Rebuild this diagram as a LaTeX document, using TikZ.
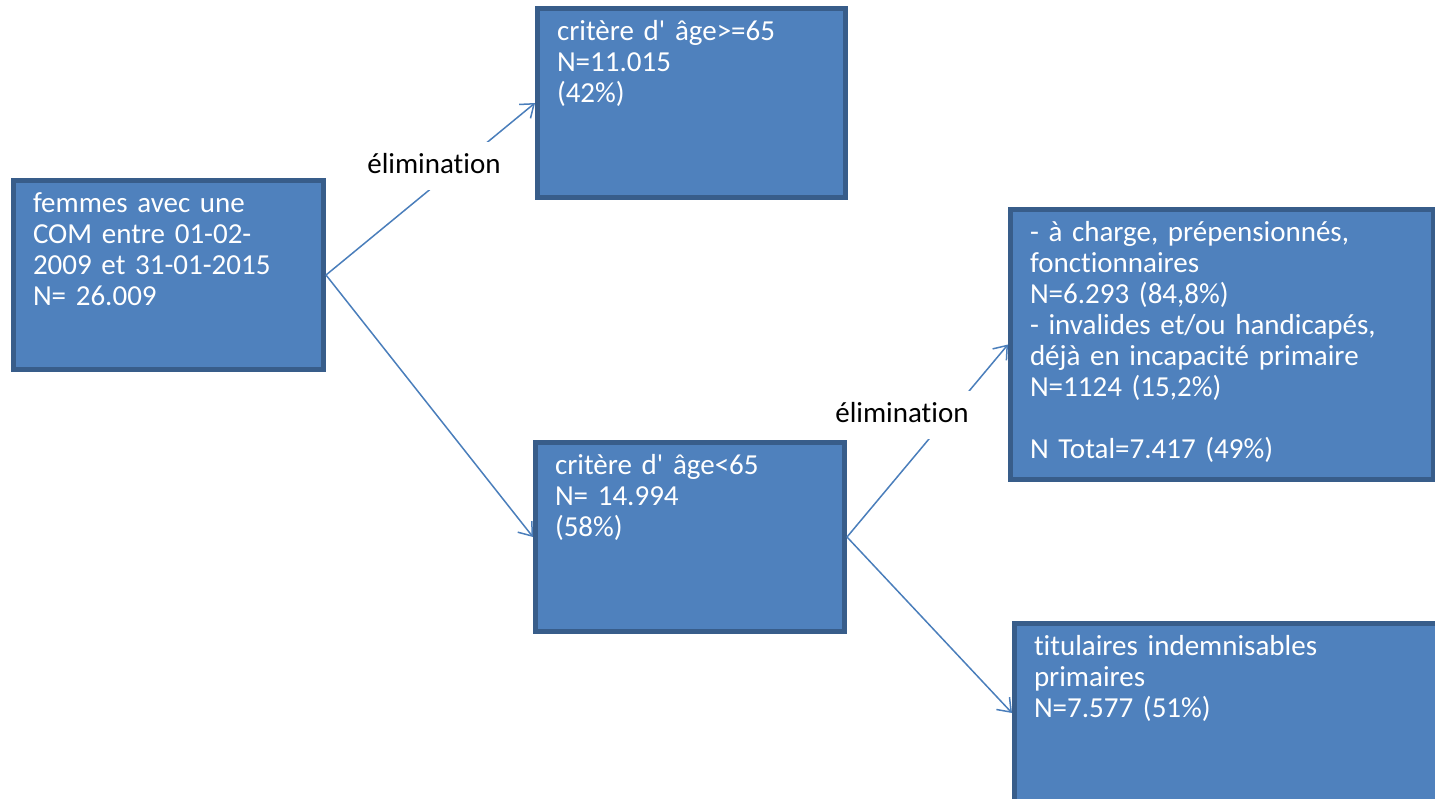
\documentclass[tikz,border=0pt]{standalone}
\usepackage{fontspec}
\setmainfont{Carlito}[Ligatures=NoCommon]
\usetikzlibrary{arrows.meta}
\definecolor{boxfill}{HTML}{4F81BD}
\definecolor{boxline}{HTML}{385D8A}
\definecolor{flowline}{HTML}{4A7EBB}
\newcommand{\flowfont}{\fontsize{14.5}{15.5}\selectfont}

\begin{document}
\begin{tikzpicture}[x=0.5pt,y=-0.5pt,
  box/.style 2 args={draw=boxline, fill=boxfill, line width=2.5pt, anchor=north west,
    align=left, text=white, font=\flowfont, inner xsep=9.75pt, inner ysep=0pt,
    text height=15.75pt, text width=#1, text depth=#2},
  flow/.style={draw=flowline, line width=0.75pt, -{Straight Barb[length=6pt,width=9pt]}},
  elim/.style={fill=white, font=\flowfont, anchor=base, inner xsep=2pt, inner ysep=5.5pt,
    text height=10pt, text depth=3pt}]
  \useasboundingbox (0,0) rectangle (1435,798);
  \clip (0,0) rectangle (1435,798);

  \node[box={135.5pt}{78.75pt}] (women) at (11,178)
    {femmes avec une\\COM entre 01-02-\\2009 et 31-01-2015\\N= 26.009};
  \node[box={134.5pt}{78.75pt}] (agehigh) at (535,6)
    {critère d\textquotesingle\ âge>=65\\N=11.015\\(42\%)};
  \node[box={135pt}{78.75pt}] (agelow) at (533,440)
    {critère d\textquotesingle\ âge<65\\N= 14.994\\(58\%)};
  \node[box={192pt}{119.25pt}] (excluded) at (1008,207)
    {- à charge, prépensionnés,\\fonctionnaires\\N=6.293 (84,8\%)\\- invalides et/ou handicapés,\\déjà en incapacité primaire\\N=1124 (15,2\%)\\[15.5pt]N Total=7.417 (49\%)};
  \node[box={193pt}{73.75pt}] (holders) at (1012,621)
    {titulaires indemnisables\\primaires\\N=7.577 (51\%)};

  \draw[flow] (women.east) -- (agehigh.west);
  \draw[flow] (women.east) -- (agelow.west);
  \draw[flow] (agelow.east) -- (excluded.west);
  \draw[flow] (agelow.east) -- (holders.west);

  \node[elim] (elimtop) at (434,173) {élimination};
  \node[elim] (elimlow) at (902,422) {élimination};
\end{tikzpicture}
\end{document}
